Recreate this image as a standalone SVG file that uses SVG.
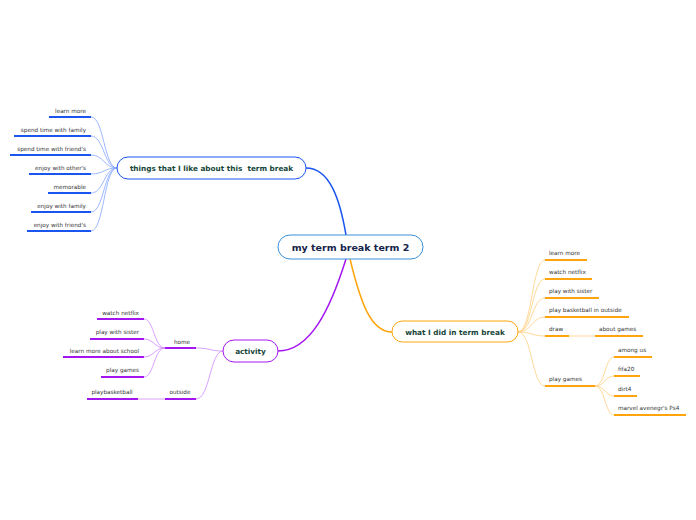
<svg xmlns="http://www.w3.org/2000/svg" width="696" height="520" viewBox="0 0 696 520">
<style>
text{font-family:"DejaVu Sans","Verdana",sans-serif;}
.leaf{font-size:5.7px;fill:#333;}
.r{text-anchor:end;}
.m{text-anchor:middle;}
.title{font-size:7.3px;font-weight:bold;fill:#16463a;text-anchor:middle;white-space:pre;}
.main{font-size:9.5px;font-weight:bold;fill:#15234a;text-anchor:middle;}
.ub{stroke:#1a55f0;stroke-width:2;fill:none;}
.uo{stroke:#ffa40a;stroke-width:2;fill:none;}
.up{stroke:#a416f0;stroke-width:2;fill:none;}
.cb{stroke:#86a6ff;stroke-width:0.8;fill:none;}
.co{stroke:#ffcf80;stroke-width:0.8;fill:none;}
.cp{stroke:#cf88ff;stroke-width:0.8;fill:none;}
</style>
<rect width="696" height="520" fill="#fff"/>
<g id="connectors">
<path d="M306 168 C330 168 340 200 346 235" stroke="#1a55f0" stroke-width="1.5" fill="none"/>
<path d="M350 259 C360 300 370 332 392 332" stroke="#ffa40a" stroke-width="1.5" fill="none"/>
<path d="M346 259 C330 310 310 351 278 351" stroke="#a416f0" stroke-width="1.5" fill="none"/>
<path class="cb" d="M117 168 C104 168 104 117 91 117"/>
<path class="cb" d="M117 168 C104 168 104 136 91 136"/>
<path class="cb" d="M117 168 C104 168 104 155 91 155"/>
<path class="cb" d="M117 168 C104 168 104 174 91 174"/>
<path class="cb" d="M117 168 C104 168 104 193 91 193"/>
<path class="cb" d="M117 168 C104 168 104 212 91 212"/>
<path class="cb" d="M117 168 C104 168 104 231 91 231"/>
<path class="co" d="M518 332 C532 332 532 260 545 260"/>
<path class="co" d="M518 332 C532 332 532 279 545 279"/>
<path class="co" d="M518 332 C532 332 532 298 545 298"/>
<path class="co" d="M518 332 C532 332 532 317 545 317"/>
<path class="co" d="M518 332 C532 332 532 336 545 336"/>
<path class="co" d="M518 332 C532 332 532 386 545 386"/>
<path class="co" d="M569 336 L595 336"/>
<path class="co" d="M595 386 C605 386 605 357 614 357"/>
<path class="co" d="M595 386 C605 386 605 376 614 376"/>
<path class="co" d="M595 386 C605 386 605 396 614 396"/>
<path class="co" d="M595 386 C605 386 605 415 614 415"/>
<path class="cp" d="M223 351 C210 351 210 348 196 348"/>
<path class="cp" d="M223 351 C210 351 210 399 196 399"/>
<path class="cp" d="M165 348 C154 348 154 319 144 319"/>
<path class="cp" d="M165 348 C154 348 154 339 144 339"/>
<path class="cp" d="M165 348 C154 348 154 357 144 357"/>
<path class="cp" d="M165 348 C154 348 154 377 144 377"/>
<path class="cp" d="M138 399 L165 399"/>
</g>
<g id="central">
<rect x="278" y="235" width="145" height="24" rx="12" fill="#fff" stroke="#3a8fd8" stroke-width="1"/>
<text class="main" x="350.5" y="250.5">my term break term 2</text>
</g>
<g id="things">
<rect x="117" y="157" width="189" height="22" rx="11" fill="#fff" stroke="#1a55f0" stroke-width="1"/>
<text class="title" x="211.5" y="171" xml:space="preserve">things that I like about this  term break</text>
</g>
<g id="left-leaves">
<line class="ub" x1="49" y1="117" x2="91" y2="117"/><text class="leaf r" x="86" y="113">learn more</text>
<line class="ub" x1="14" y1="136" x2="91" y2="136"/><text class="leaf r" x="86" y="132">spend time with family</text>
<line class="ub" x1="10" y1="155" x2="91" y2="155"/><text class="leaf r" x="86" y="151">spend time with friend's</text>
<line class="ub" x1="29" y1="174" x2="91" y2="174"/><text class="leaf r" x="86" y="170">enjoy with other's</text>
<line class="ub" x1="48" y1="193" x2="91" y2="193"/><text class="leaf r" x="86" y="189">memorable</text>
<line class="ub" x1="31" y1="212" x2="91" y2="212"/><text class="leaf r" x="86" y="208">enjoy with family</text>
<line class="ub" x1="27" y1="231" x2="91" y2="231"/><text class="leaf r" x="86" y="227">enjoy with friend's</text>
</g>
<g id="what">
<rect x="392" y="321" width="126" height="21" rx="10.5" fill="#fff" stroke="#ffa40a" stroke-width="1"/>
<text class="title" x="455" y="335">what I did in term break</text>
</g>
<g id="right-leaves">
<line class="uo" x1="545" y1="260" x2="587" y2="260"/><text class="leaf" x="549" y="255">learn more</text>
<line class="uo" x1="545" y1="279" x2="592" y2="279"/><text class="leaf" x="549" y="274">watch netflix</text>
<line class="uo" x1="545" y1="298" x2="599" y2="298"/><text class="leaf" x="549" y="293">play with sister</text>
<line class="uo" x1="545" y1="317" x2="629" y2="317"/><text class="leaf" x="549" y="312">play basketball in outside</text>
<line class="uo" x1="545" y1="336" x2="569" y2="336"/><text class="leaf" x="549" y="331">draw</text>
<line class="uo" x1="595" y1="336" x2="643" y2="336"/><text class="leaf" x="599" y="331">about games</text>
<line class="uo" x1="545" y1="386" x2="595" y2="386"/><text class="leaf" x="549" y="381">play games</text>
<line class="uo" x1="614" y1="357" x2="652" y2="357"/><text class="leaf" x="618" y="352">among us</text>
<line class="uo" x1="614" y1="376" x2="640" y2="376"/><text class="leaf" x="618" y="371">fifa20</text>
<line class="uo" x1="614" y1="396" x2="637" y2="396"/><text class="leaf" x="618" y="391">dirt4</text>
<line class="uo" x1="614" y1="415" x2="686" y2="415"/><text class="leaf" x="618" y="410">marvel avenegr's Ps4</text>
</g>
<g id="activity">
<rect x="223" y="340" width="55" height="22" rx="11" fill="#fff" stroke="#a416f0" stroke-width="1"/>
<text class="title" x="250.5" y="354">activity</text>
</g>
<g id="activity-leaves">
<line class="up" x1="165" y1="348" x2="196" y2="348"/><text class="leaf m" x="182" y="344">home</text>
<line class="up" x1="165" y1="399" x2="196" y2="399"/><text class="leaf m" x="180" y="394">outside</text>
<line class="up" x1="97" y1="319" x2="144" y2="319"/><text class="leaf r" x="139" y="315">watch netflix</text>
<line class="up" x1="90" y1="339" x2="144" y2="339"/><text class="leaf r" x="139" y="334">play with sister</text>
<line class="up" x1="63" y1="357" x2="144" y2="357"/><text class="leaf r" x="139" y="353">learn more about school</text>
<line class="up" x1="101" y1="377" x2="144" y2="377"/><text class="leaf r" x="139" y="372">play games</text>
<line class="up" x1="87" y1="399" x2="138" y2="399"/><text class="leaf m" x="112" y="394">playbasketball</text>
</g>
</svg>
